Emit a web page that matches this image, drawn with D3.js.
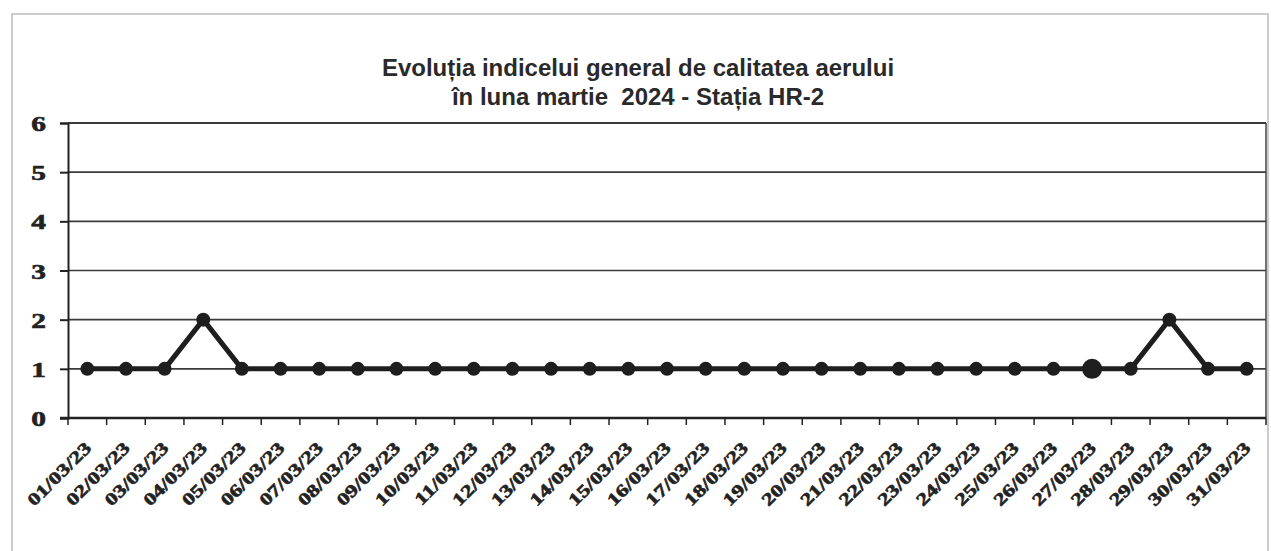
<!doctype html>
<html>
<head>
<meta charset="utf-8">
<script src="https://cdnjs.cloudflare.com/ajax/libs/d3/7.8.5/d3.min.js"></script>
<style>
body { margin: 0; background: #fff; }
svg { display: block; }
.title { font-family: "Liberation Sans", Arial, sans-serif; font-weight: bold; font-size: 24px; fill: #2a2a2a; white-space: pre; }
.ylab, .xlab { font-family: "Liberation Serif", "Times New Roman", serif; font-weight: bold; fill: #222; stroke: #222; stroke-width: 0.6; }
</style>
</head>
<body>
<svg width="1271" height="551"></svg>
<script>
var days = ["01/03/23","02/03/23","03/03/23","04/03/23","05/03/23","06/03/23","07/03/23",
  "08/03/23","09/03/23","10/03/23","11/03/23","12/03/23","13/03/23","14/03/23","15/03/23",
  "16/03/23","17/03/23","18/03/23","19/03/23","20/03/23","21/03/23","22/03/23","23/03/23",
  "24/03/23","25/03/23","26/03/23","27/03/23","28/03/23","29/03/23","30/03/23","31/03/23"]
var indice = [1,1,1,2,1,1,1,1,1,1,1,1,1,1,1,1,1,1,1,1,1,1,1,1,1,1,1,1,2,1,1]
var bigDays = ["27/03/23"]
var yTicks = [0,1,2,3,4,5,6]
var titleLines = ["Evoluția indicelui general de calitatea aerului", "în luna martie  2024 - Stația HR-2"]

var svg = d3.select("svg")

// outer frame of the scanned chart
svg.append("rect")
  .attr("x", 12).attr("y", 14).attr("width", 1256).attr("height", 600)
  .style("fill", "none").style("stroke", "#aaa").style("stroke-width", 1.2)

var plotL = 68, plotR = 1266, plotT = 123, plotB = 418

var x = d3.scaleBand().domain(days).range([plotL, plotR])
var y = d3.scaleLinear().domain([0, 6]).range([plotB, plotT])

svg.selectAll("text.title")
  .data(titleLines)
  .enter()
  .append("text")
  .attr("class", "title")
  .attr("x", 638)
  .attr("y", (d, i) => 76 + i * 29)
  .style("text-anchor", "middle")
  .text(d => d)

// grid lines
svg.append("g").selectAll("line")
  .data(yTicks.filter(d => d > 0))
  .enter()
  .append("line")
  .attr("x1", plotL).attr("x2", plotR)
  .attr("y1", d => y(d)).attr("y2", d => y(d))
  .style("stroke", "#3a3a3a")
  .style("stroke-width", d => d == 6 ? 2 : 1.6)

// right edge of plot
svg.append("line")
  .attr("x1", plotR).attr("x2", plotR).attr("y1", plotT).attr("y2", plotB)
  .style("stroke", "#444").style("stroke-width", 1.5)

// y axis
var yAxis = d3.axisLeft(y).tickValues(yTicks).tickSize(8).tickFormat("")
var yg = svg.append("g").attr("transform", "translate(" + plotL + ",0)").call(yAxis)
yg.selectAll("path, line").style("stroke", "#222").style("stroke-width", 2)

yg.selectAll("text.ylab")
  .data(yTicks)
  .enter()
  .append("text")
  .attr("class", "ylab")
  .attr("transform", d => "translate(" + (46 - plotL) + "," + (y(d) + 8) + ") scale(1.4,1)")
  .style("text-anchor", "end")
  .style("font-size", "21px")
  .text(d => d)

// x axis with ticks at category boundaries
var bounds = days.map(d => x(d)).concat([plotR])
svg.append("line")
  .attr("x1", plotL - 8).attr("x2", plotR).attr("y1", plotB).attr("y2", plotB)
  .style("stroke", "#222").style("stroke-width", 2.5)
svg.append("g").selectAll("line")
  .data(bounds)
  .enter()
  .append("line")
  .attr("x1", d => d).attr("x2", d => d)
  .attr("y1", plotB).attr("y2", plotB + 7)
  .style("stroke", "#222").style("stroke-width", 1.5)

svg.append("g").selectAll("text")
  .data(days)
  .enter()
  .append("text")
  .attr("class", "xlab")
  .attr("transform", d => "translate(" + (x(d) + x.bandwidth() / 2 + 5) + "," + 449 + ") rotate(-45) scale(1.32,1)")
  .style("text-anchor", "end")
  .style("font-size", "17.5px")
  .text(d => d)

// series
var pts = days.map((d, i) => ({ day: d, v: indice[i] }))
var line = d3.line()
  .x(d => x(d.day) + x.bandwidth() / 2)
  .y(d => y(d.v))

svg.append("path")
  .datum(pts)
  .attr("d", line)
  .style("fill", "none")
  .style("stroke", "#1e1e1e")
  .style("stroke-width", 5)
  .style("stroke-linejoin", "round")

svg.append("g").selectAll("circle")
  .data(pts)
  .enter()
  .append("circle")
  .attr("cx", d => x(d.day) + x.bandwidth() / 2)
  .attr("cy", d => y(d.v))
  .attr("r", d => bigDays.indexOf(d.day) >= 0 ? 10 : 7)
  .style("fill", "#1e1e1e")
</script>
</body>
</html>
